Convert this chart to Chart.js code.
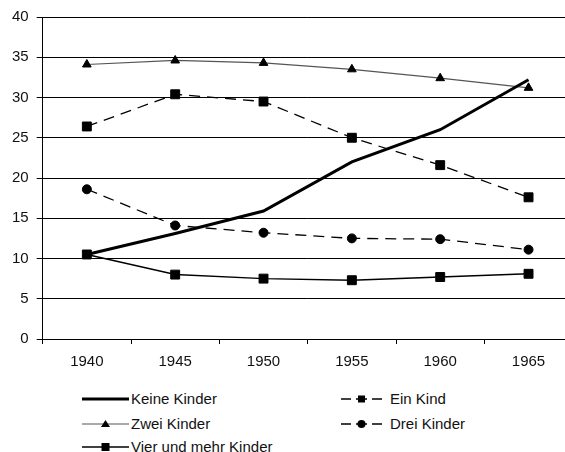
<!DOCTYPE html>
<html>
<head>
<meta charset="utf-8">
<script src="https://cdn.jsdelivr.net/npm/chart.js@4/dist/chart.umd.min.js"></script>
<style>
  html, body { margin:0; padding:0; background:#fff; overflow:hidden; width:565px; height:452px; }
  #wrap { position:absolute; left:0; top:0; width:580px; height:380px; }
  .leg { position:absolute; font-family:"Liberation Sans", Arial, sans-serif; font-size:15px; color:#111; line-height:18px; white-space:nowrap; }
  .leg svg { position:absolute; }
</style>
</head>
<body>
<div id="wrap"><canvas id="c" width="580" height="380"></canvas></div>
<div id="legend"></div>
<script>
const years = ['1940', '1945', '1950', '1955', '1960', '1965'];
const keineKinder = [10.5, 13.1, 15.9, 22.0, 26.0, 32.2];
const einKind     = [26.4, 30.4, 29.5, 25.0, 21.6, 17.6];
const zweiKinder  = [34.1, 34.6, 34.3, 33.5, 32.4, 31.2];
const dreiKinder  = [18.6, 14.1, 13.2, 12.5, 12.4, 11.1];
const vierKinder  = [10.5, 8.0, 7.5, 7.3, 7.7, 8.1];
const seriesNames = ['Keine Kinder', 'Ein Kind', 'Zwei Kinder', 'Drei Kinder', 'Vier und mehr Kinder'];

const FONT = { family: '"Liberation Sans", Arial, sans-serif', size: 15 };

new Chart(document.getElementById('c'), {
  type: 'line',
  data: {
    labels: years,
    datasets: [
      { label: seriesNames[0], data: keineKinder, borderColor: '#000', borderWidth: 3, pointRadius: 0, tension: 0 },
      { label: seriesNames[1], data: einKind, borderColor: '#000', borderWidth: 1.3, borderDash: [11, 7],
        pointStyle: 'rect', pointRadius: 6.3, pointBackgroundColor: '#000', pointBorderColor: '#000', pointBorderWidth: 1 },
      { label: seriesNames[2], data: zweiKinder, borderColor: '#555', borderWidth: 1.2,
        pointStyle: 'triangle', pointRadius: 5, pointBackgroundColor: '#000', pointBorderColor: '#000', pointBorderWidth: 1 },
      { label: seriesNames[3], data: dreiKinder, borderColor: '#000', borderWidth: 1.3, borderDash: [11, 7],
        pointStyle: 'circle', pointRadius: 4.5, pointBackgroundColor: '#000', pointBorderColor: '#000', pointBorderWidth: 1 },
      { label: seriesNames[4], data: vierKinder, borderColor: '#000', borderWidth: 1.5,
        pointStyle: 'rect', pointRadius: 6.3, pointBackgroundColor: '#000', pointBorderColor: '#000', pointBorderWidth: 1 }
    ]
  },
  options: {
    responsive: false,
    animation: false,
    layout: { padding: { left: 4, right: 7, top: 15, bottom: 0 } },
    plugins: { legend: { display: false }, tooltip: { enabled: false } },
    scales: {
      x: {
        offset: true,
        grid: { offset: true, drawOnChartArea: false, color: '#000', tickLength: 5, lineWidth: 1 },
        border: { color: '#000', width: 1 },
        ticks: { font: FONT, color: '#111', padding: 9, maxRotation: 0 }
      },
      y: {
        min: 0, max: 40,
        grid: { color: '#000', lineWidth: 1, tickLength: 6 },
        border: { color: '#000', width: 1 },
        ticks: { stepSize: 5, font: FONT, color: '#111', padding: 8 }
      }
    }
  }
});

// HTML legend
const legendItems = [
  { name: seriesNames[0], x: 82, y: 399, type: 'thick' },
  { name: seriesNames[1], x: 341, y: 399, type: 'dashRect' },
  { name: seriesNames[2], x: 82, y: 424, type: 'tri' },
  { name: seriesNames[3], x: 341, y: 424, type: 'dashCircle' },
  { name: seriesNames[4], x: 82, y: 447, type: 'rect' }
];
const legendEl = document.getElementById('legend');
legendItems.forEach(it => {
  const d = document.createElement('div');
  d.className = 'leg';
  d.style.left = it.x + 'px';
  d.style.top = (it.y - 9) + 'px';
  let svg = '';
  if (it.type === 'thick') {
    svg = '<svg width="48" height="18" style="left:0;top:0"><line x1="0" y1="9" x2="47" y2="9" stroke="#000" stroke-width="3"/></svg>';
  } else if (it.type === 'tri') {
    svg = '<svg width="48" height="18" style="left:0;top:0"><line x1="0" y1="9" x2="47" y2="9" stroke="#555" stroke-width="1.2"/><polygon points="23.5,5 28,12 19,12" fill="#000"/></svg>';
  } else if (it.type === 'rect') {
    svg = '<svg width="48" height="18" style="left:0;top:0"><line x1="0" y1="9" x2="47" y2="9" stroke="#000" stroke-width="1.5"/><rect x="19.5" y="5" width="8" height="8" fill="#000"/></svg>';
  } else if (it.type === 'dashRect') {
    svg = '<svg width="44" height="18" style="left:0;top:0"><line x1="0" y1="9" x2="10" y2="9" stroke="#000" stroke-width="1.5"/><line x1="31" y1="9" x2="41" y2="9" stroke="#000" stroke-width="1.5"/><line x1="15" y1="9" x2="26" y2="9" stroke="#000" stroke-width="1.5"/><rect x="17" y="5.5" width="7" height="7" fill="#000"/></svg>';
  } else {
    svg = '<svg width="44" height="18" style="left:0;top:0"><line x1="0" y1="9" x2="10" y2="9" stroke="#000" stroke-width="1.5"/><line x1="31" y1="9" x2="41" y2="9" stroke="#000" stroke-width="1.5"/><line x1="15" y1="9" x2="26" y2="9" stroke="#000" stroke-width="1.5"/><circle cx="20.5" cy="9" r="4" fill="#000"/></svg>';
  }
  d.innerHTML = svg + '<span style="position:absolute;left:49px;top:0">' + it.name + '</span>';
  legendEl.appendChild(d);
});
</script>
</body>
</html>
